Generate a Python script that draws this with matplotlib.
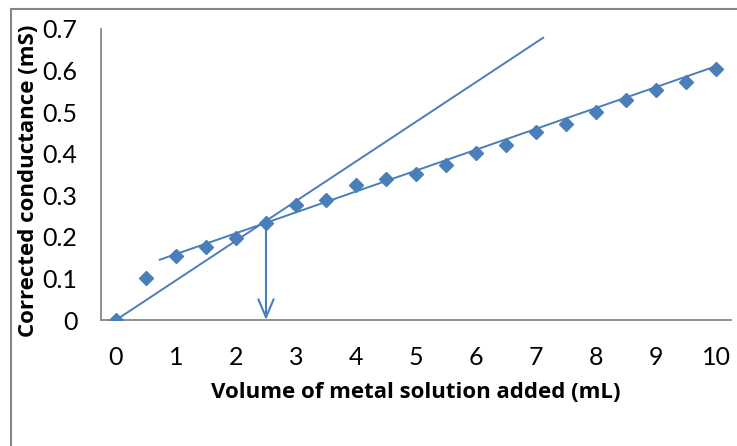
import numpy as np
from matplotlib import pyplot as plt
from matplotlib.patches import Rectangle

# titration data
volume = np.arange(0, 10.5, 0.5)
conductance = [0.0, 0.101, 0.153, 0.175, 0.197, 0.233, 0.276, 0.289, 0.325, 0.338,
               0.352, 0.372, 0.401, 0.422, 0.452, 0.472, 0.500, 0.529, 0.553, 0.573, 0.603]

# hand drawn fit lines (endpoints)
line1_x = [0.0, 7.12]
line1_y = [0.0, 0.679]
line2_x = [0.73, 10.01]
line2_y = [0.145, 0.611]

# equivalence point
eq_x = 2.5
eq_y = 0.233

blue = "#4A7EBB"
grey = "#878787"

plt.rcParams['font.family'] = ['Lato', 'DejaVu Sans']

fig = plt.figure(figsize=(7.37, 4.46), dpi=100)
ax = fig.add_axes([101 / 737, 1 - 320 / 446, 630 / 737, 291 / 446])

# outer chart border
fig.patches.append(Rectangle((11 / 737, -0.1), 1.2, 1 - 9 / 446 + 0.1,
                             transform=fig.transFigure, fill=False,
                             edgecolor=grey, linewidth=1.5))

ax.plot(line1_x, line1_y, color=blue, lw=1.4)
ax.plot(line2_x, line2_y, color=blue, lw=1.4)
ax.plot(volume, conductance, "D", color=blue, markersize=7, zorder=3)

# arrow down to the x axis
ax.annotate("", xy=(eq_x, 0), xytext=(eq_x, eq_y),
            arrowprops=dict(arrowstyle="->,head_length=1.3,head_width=0.55",
                            color=blue, lw=1.5, shrinkA=0, shrinkB=0))

ax.set_xlim(-0.25, 10.25)
ax.set_ylim(0, 0.7)
ax.set_xticks(range(0, 11))
ax.set_yticks(np.arange(0, 0.71, 0.1))
ax.set_yticklabels(["0", "0.1", "0.2", "0.3", "0.4", "0.5", "0.6", "0.7"])
ax.tick_params(length=0, labelsize=18, colors="black")
ax.tick_params(axis="x", pad=19)
ax.tick_params(axis="y", pad=17)

for side in ["top", "right"]:
    ax.spines[side].set_visible(False)
for side in ["left", "bottom"]:
    ax.spines[side].set_color(grey)
    ax.spines[side].set_linewidth(1.3)

fig.text(416 / 737, 1 - 393 / 446, "Volume of metal solution added (mL)",
         ha="center", va="center", fontsize=16, fontweight="bold",
         family=["Open Sans", "DejaVu Sans"])
fig.text(29 / 737, 1 - 181 / 446, "Corrected conductance (mS)",
         ha="center", va="center", rotation=90, fontsize=16, fontweight="bold",
         family=["Open Sans", "DejaVu Sans"])

plt.savefig("out.png", dpi=100)
